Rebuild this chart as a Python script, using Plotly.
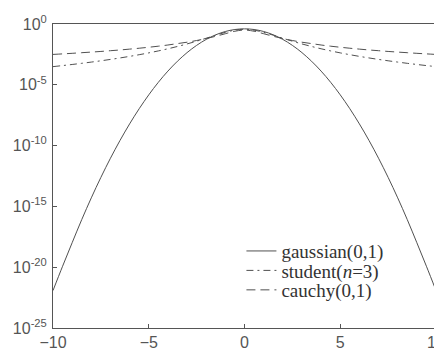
import plotly.graph_objects as go

x = [-10.0, -9.5, -9.0, -8.5, -8.0, -7.5, -7.0, -6.5, -6.0, -5.5, -5.0, -4.5, -4.0, -3.5, -3.0, -2.5, -2.0, -1.5, -1.0, -0.5,
     0.0, 0.5, 1.0, 1.5, 2.0, 2.5, 3.0, 3.5, 4.0, 4.5, 5.0, 5.5, 6.0, 6.5, 7.0, 7.5, 8.0, 8.5, 9.0, 9.5, 10.0]

gaussian = [1.2e-22, 1.2e-20, 1.0280e-18, 8.1662e-17, 5.0523e-15, 2.4343e-13, 9.1347e-12, 2.6696e-10, 6.0759e-09,
            1.0769e-07, 1.4867e-06, 1.5984e-05, 1.3383e-04, 8.7268e-04, 4.4318e-03, 1.7528e-02, 5.3991e-02, 1.2952e-01,
            2.4197e-01, 3.5207e-01, 3.9894e-01, 3.5207e-01, 2.4197e-01, 1.2952e-01, 5.3991e-02, 1.7528e-02, 4.4318e-03,
            8.7268e-04, 1.3383e-04, 1.5984e-05, 1.4867e-06, 1.0769e-07, 6.0759e-09, 2.6696e-10, 9.1347e-12, 2.4343e-13,
            5.0523e-15, 8.1662e-17, 1.0280e-18, 1.2e-20, 1.2e-22]

student = [3.1181e-04, 3.8042e-04, 4.6882e-04, 5.8419e-04, 7.3691e-04, 9.4230e-04, 1.2234e-03, 1.6155e-03, 2.1749e-03,
           2.9921e-03, 4.2194e-03, 6.1195e-03, 9.1633e-03, 1.4224e-02, 2.2972e-02, 3.8662e-02, 6.7510e-02, 1.2002e-01,
           2.0675e-01, 3.1318e-01, 3.6755e-01, 3.1318e-01, 2.0675e-01, 1.2002e-01, 6.7510e-02, 3.8662e-02, 2.2972e-02,
           1.4224e-02, 9.1633e-03, 6.1195e-03, 4.2194e-03, 2.9921e-03, 2.1749e-03, 1.6155e-03, 1.2234e-03, 9.4230e-04,
           7.3691e-04, 5.8419e-04, 4.6882e-04, 3.8042e-04, 3.1181e-04]

cauchy = [3.1516e-03, 3.4887e-03, 3.8818e-03, 4.3607e-03, 4.8971e-03, 5.5358e-03, 6.3662e-03, 7.3198e-03, 8.6030e-03,
          1.0176e-02, 1.2243e-02, 1.4970e-02, 1.8724e-02, 2.4485e-02, 3.1831e-02, 4.3905e-02, 6.3662e-02, 9.7942e-02,
          1.5915e-01, 2.5465e-01, 3.1831e-01, 2.5465e-01, 1.5915e-01, 9.7942e-02, 6.3662e-02, 4.3905e-02, 3.1831e-02,
          2.4485e-02, 1.8724e-02, 1.4970e-02, 1.2243e-02, 1.0176e-02, 8.6030e-03, 7.3198e-03, 6.3662e-03, 5.5358e-03,
          4.8971e-03, 4.3607e-03, 3.8818e-03, 3.4887e-03, 3.1516e-03]

series_names = ["gaussian(0,1)", "student(<i>n</i>=3)", "cauchy(0,1)"]
x_ticks = [-10, -5, 0, 5, 10]
y_tick_vals = [1e0, 1e-5, 1e-10, 1e-15, 1e-20, 1e-25]
y_tick_text = ["10<sup>0</sup>", "10<sup>-5</sup>", "10<sup>-10</sup>", "10<sup>-15</sup>", "10<sup>-20</sup>", "10<sup>-25</sup>"]

line_color = "#505050"
fig = go.Figure()
fig.add_trace(go.Scatter(x=x, y=gaussian, name=series_names[0], mode="lines", line_shape="spline",
                         line=dict(color=line_color, width=1, dash="solid"), legend="legend"))
fig.add_trace(go.Scatter(x=x, y=student, name=series_names[1], mode="lines", line_shape="spline",
                         line=dict(color=line_color, width=1, dash="7px,4px,2px,4px"), legend="legend2"))
fig.add_trace(go.Scatter(x=x, y=cauchy, name=series_names[2], mode="lines", line_shape="spline",
                         line=dict(color=line_color, width=1, dash="9px,5px"), legend="legend3"))

leg_font = dict(family="Liberation Serif", size=19, color="#333333")
leg_common = dict(x=0.492, xanchor="left", yanchor="middle", bgcolor="rgba(0,0,0,0)", font=leg_font,
                  itemwidth=30, borderwidth=0)

fig.update_layout(
    width=442, height=348,
    margin=dict(l=45, r=5, t=13, b=23),
    paper_bgcolor="white", plot_bgcolor="white",
    showlegend=True,
    legend=dict(y=0.253, **leg_common),
    legend2=dict(y=0.189, **leg_common),
    legend3=dict(y=0.125, **leg_common),
)
fig.update_xaxes(range=[-10, 10], tickvals=x_ticks, ticks="inside", ticklen=4, tickcolor="#555",
                 showline=True, linecolor="#555", linewidth=1, mirror=True, showgrid=False, zeroline=False,
                 ticklabeloverflow="allow",
                 tickfont=dict(family="Liberation Sans", size=16, color="#555"))
fig.update_yaxes(type="log", range=[-25, 0], tickvals=y_tick_vals, ticktext=y_tick_text, ticks="inside", ticklen=4,
                 tickcolor="#555", showline=True, linecolor="#555", linewidth=1, mirror=True, showgrid=False,
                 zeroline=False, ticklabelstandoff=2,
                 tickfont=dict(family="Liberation Sans", size=16, color="#555"))

fig.write_html("out.html")
